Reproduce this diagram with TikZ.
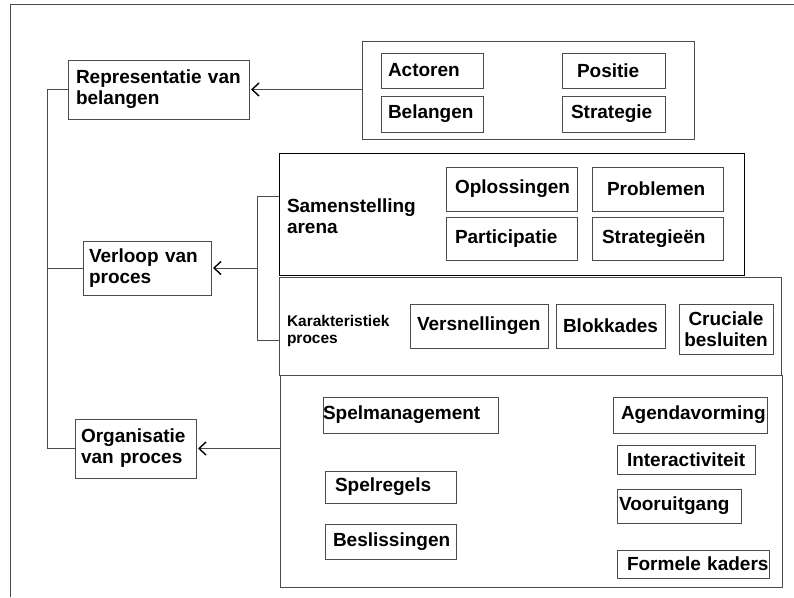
\documentclass[tikz,border=0pt]{standalone}
\usepackage{fontspec}
\setmainfont{Liberation Sans}
\usetikzlibrary{arrows.meta, positioning}

\begin{document}
\begin{tikzpicture}[
    x=1pt, y=-1pt,
    node distance=8pt and 79pt,
    every node/.style={font=\bfseries\fontsize{19}{21}\selectfont, inner sep=0pt, outer sep=0pt},
    box/.style={rectangle, draw=black!70, line width=0.9pt, align=center},
    tbox/.style 2 args={box, align=left, minimum width=#1, text width=#1,
                        execute at begin node={\leftskip=#2\relax}},
    groupbox/.style={rectangle, draw=black!70, line width=0.9pt, anchor=north west},
    label/.style={anchor=west, align=left},
    link/.style={draw=black!70, line width=0.9pt},
    arr/.style={link, {Straight Barb[length=7pt, width=13pt, line width=1.4pt, color=black]}-, shorten <=2pt},
]
\useasboundingbox (0,0) rectangle (794,597);
\draw[link] (794,4) -- (10,4) -- (10,597);

% main topics
\node[tbox={181pt}{8pt}, minimum height=59pt] (rep) at (158.5,89.5) {Representatie van\\belangen};
\node[tbox={128pt}{6pt}, minimum height=54pt] (verloop) at (147,268) {Verloop van\\proces};
\node[tbox={121pt}{6pt}, minimum height=59pt] (org) at (135.5,448.5) {Organisatie\\van proces};

% belangen
\node[groupbox, minimum width=332pt, minimum height=98pt] (belcont) at (362,41) {};
\node[tbox={102pt}{7pt}, minimum height=35pt] (actoren) at (432,70.5) {Actoren};
\node[tbox={102pt}{7pt}, minimum height=36pt, below=of actoren] (belangen) {Belangen};
\node[tbox={103pt}{15pt}, minimum height=35pt, right=of actoren] (positie) {Positie};
\node[tbox={103pt}{9pt}, minimum height=36pt, below=of positie] (strategie) {Strategie};

% arena
\node[groupbox, draw=black, minimum width=465pt, minimum height=122pt] (arena) at (279,153) {};
\node[label] (arenatxt) at (287,216) {Samenstelling\\arena};
\node[tbox={131pt}{9pt}, minimum height=44pt] (oplos) at (511.5,189) {Oplossingen};
\node[tbox={131pt}{15pt}, minimum height=44pt, right=15pt of oplos] (probl) {Problemen};
\node[tbox={131pt}{9pt}, minimum height=43pt, below=6pt of oplos] (partic) {Participatie};
\node[tbox={131pt}{10pt}, minimum height=43pt, below=6pt of probl] (strats) {Strategieën};

% karakteristiek
\node[groupbox, minimum width=502pt, minimum height=98pt] (karak) at (279,277) {};
\node[label, font=\bfseries\fontsize{15.5}{17}\selectfont] (karaktxt) at (287,331) {Karakteristiek\\proces};
\node[tbox={138pt}{7pt}, minimum height=44pt] (versn) at (479,326) {Versnellingen};
\node[tbox={109pt}{7pt}, minimum height=44pt, right=8pt of versn] (blokk) {Blokkades};
\node[box, minimum width=94pt, minimum height=50pt] (cruc) at (726,329) {Cruciale\\besluiten};

% organisatie
\node[groupbox, minimum width=502pt, minimum height=212pt] (orgcont) at (280,375) {};
\node[tbox={175pt}{0pt}, minimum height=36pt] (spelman) at (410.5,415) {Spelmanagement};
\node[tbox={131pt}{10pt}, minimum height=32pt] (spelreg) at (390.5,487) {Spelregels};
\node[tbox={131pt}{8pt}, minimum height=35pt] (besl) at (390.5,541.5) {Beslissingen};
\node[tbox={154pt}{8pt}, minimum height=36pt] (agenda) at (690,415) {Agendavorming};
\node[tbox={138pt}{10pt}, minimum height=29pt] (inter) at (686,459.5) {Interactiviteit};
\node[tbox={124pt}{2pt}, minimum height=34pt] (vooruit) at (679,506) {Vooruitgang};
\node[tbox={152pt}{10pt}, minimum height=28pt] (formeel) at (693,564) {Formele kaders};

% connectors
\coordinate (spinetop) at (47,89.5);
\coordinate (spinebot) at (47,448.5);
\coordinate (brtop) at (257,196);
\coordinate (brbot) at (257,340);

\draw[link] (rep.west) -- (spinetop) -- (spinebot) -- (org.west);
\draw[link] (verloop.west) -- (verloop.west -| spinetop);
\draw[link] (arena.west |- brtop) -- (brtop) -- (brbot) -- (karak.west |- brbot);

\draw[arr] (rep.east) -- (belcont.west |- rep.east);
\draw[arr] (verloop.east) -- (verloop.east -| brtop);
\draw[arr] (org.east) -- (orgcont.west |- org.east);

\end{tikzpicture}
\end{document}
